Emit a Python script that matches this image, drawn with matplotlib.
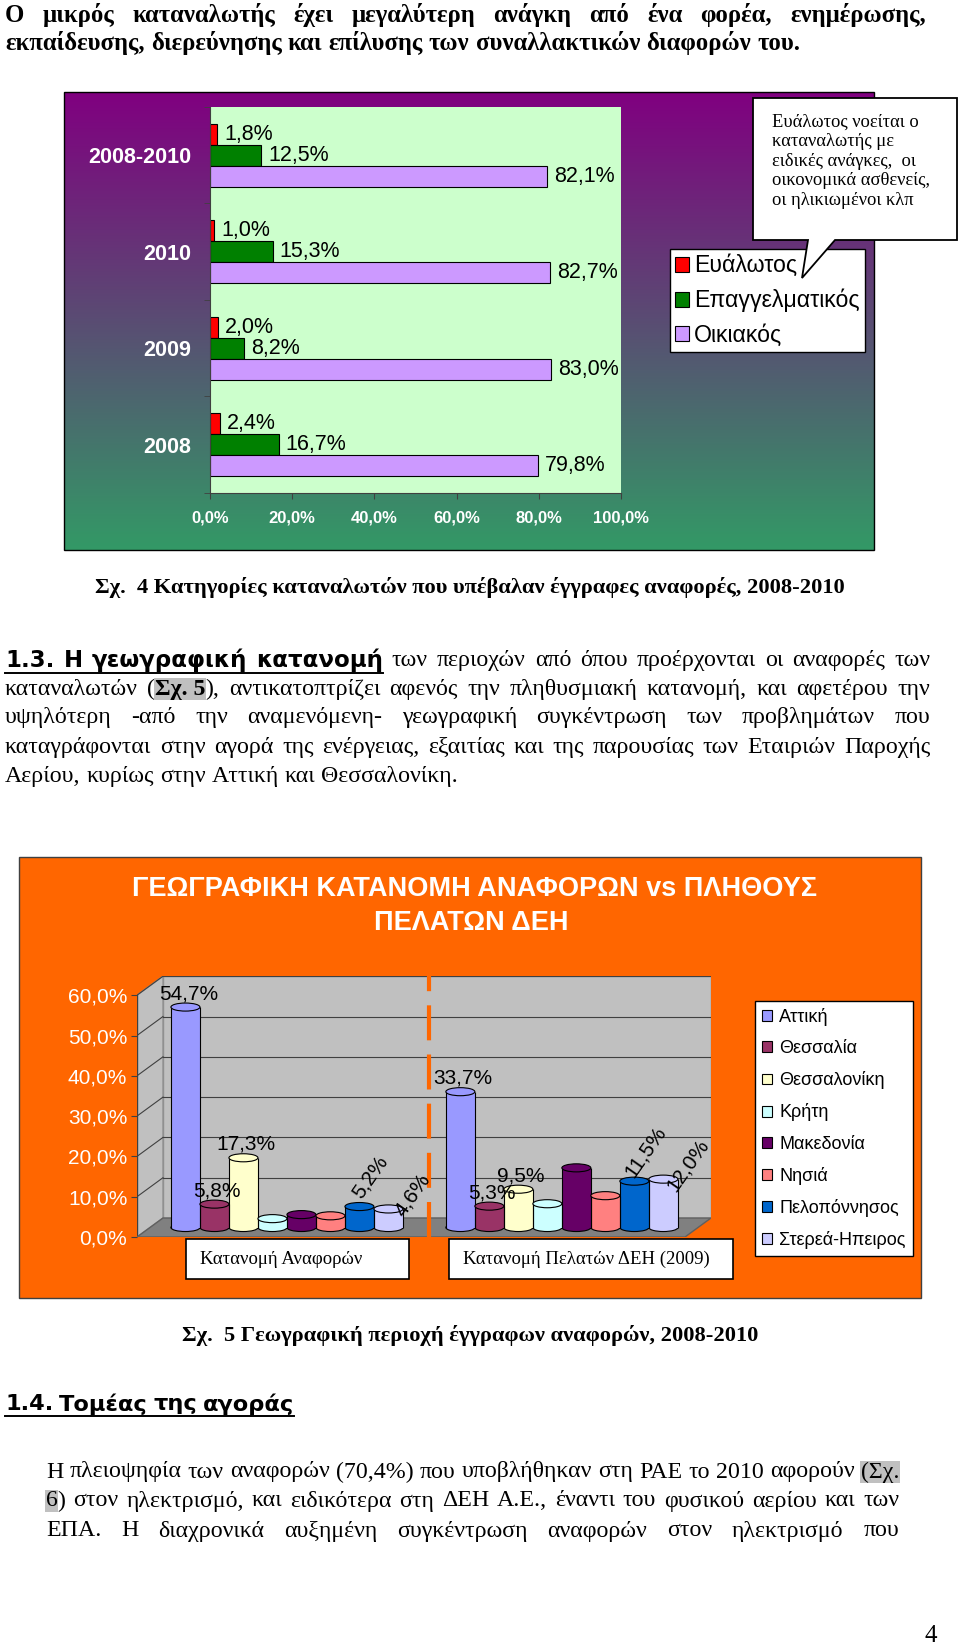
import numpy as np
import matplotlib
matplotlib.use('Agg')
import matplotlib.pyplot as plt
from matplotlib.patches import Rectangle, Polygon, Ellipse, Patch

# --- data: chart 4 (consumer categories) ---
CATS1 = ['2008-2010', '2010', '2009', '2008']
SERIES1 = ['Ευάλωτος', 'Επαγγελματικός', 'Οικιακός']
EVALOTOS = [1.8, 1.0, 2.0, 2.4]
EPAGGELMATIKOS = [12.5, 15.3, 8.2, 16.7]
OIKIAKOS = [82.1, 82.7, 83.0, 79.8]
COLORS1 = ['#FF0000', '#008000', '#CC99FF']
XTICKS1 = [0, 20, 40, 60, 80, 100]

# --- data: chart 5 (regions) ---
REGIONS = ['Αττική', 'Θεσσαλία', 'Θεσσαλονίκη', 'Κρήτη', 'Μακεδονία',
           'Νησιά', 'Πελοπόννησος', 'Στερεά-Ηπειρος']
REPORTS = [54.7, 5.8, 17.3, 2.2, 3.2, 2.9, 5.2, 4.6]
CUSTOMERS = [33.7, 5.3, 9.5, 5.9, 14.8, 7.9, 11.5, 12.0]
CATS2 = ['Κατανομή Αναφορών', 'Κατανομή Πελατών ΔΕΗ (2009)']
COLORS2 = ['#9999FF', '#993366', '#FFFFCC', '#CCFFFF', '#660066',
           '#FF8080', '#0066CC', '#CCCCFF']
SHOW_LABEL = [True, True, True, False, False, False, True, True]
YTICKS2 = [0, 10, 20, 30, 40, 50, 60]

SERIF = ['Liberation Serif', 'DejaVu Serif']
SANS = ['Liberation Sans', 'DejaVu Sans']
HEADF = ['DejaVu Sans']

W, H = 960, 1648
PX = 100 / 72.  # px per point


def pct(v):
    return ('%.1f%%' % v).replace('.', ',')


def fig_rect(x0, y0, x1, y1):
    return [x0 / W, 1 - y1 / H, (x1 - x0) / W, (y1 - y0) / H]


fig = plt.figure(figsize=(9.6, 16.48), dpi=100)
fig.patch.set_facecolor('white')
renderer = fig.canvas.get_renderer()

bg = fig.add_axes([0, 0, 1, 1], zorder=0)
bg.axis('off')

# ---------------- text helpers ----------------
BODY_FS = 17.2
STYLES = {
    'hdr': dict(family=SERIF, fontsize=17.8, fontweight='bold'),
    'body': dict(family=SERIF, fontsize=BODY_FS),
    'body_hl': dict(family=SERIF, fontsize=BODY_FS, hl=True),
    'bodyb_hl': dict(family=SERIF, fontsize=BODY_FS, fontweight='bold', hl=True),
    'head': dict(family=HEADF, fontsize=16.5, fontweight='bold', ul=True),
    'head2': dict(family=HEADF, fontsize=16.2, fontweight='bold', ul=True),
}


def words(s, st):
    return [[(w, st)] for w in s.split()]


def draw_line(ax, line, x0, y, x1=None):
    arts = []
    for word in line:
        runs = []
        for txt, st in word:
            kw = dict(STYLES[st])
            hl = kw.pop('hl', False)
            ul = kw.pop('ul', False)
            t = ax.text(0, y, txt, ha='left', va='center', color='black', **kw)
            if hl:
                t.set_bbox(dict(facecolor='#C0C0C0', edgecolor='none', pad=0.6))
            runs.append((t, t.get_window_extent(renderer).width, ul, kw['fontsize']))
        arts.append(runs)
    wsum = [sum(r[1] for r in runs) for runs in arts]
    if x1 is not None and len(arts) > 1:
        gap = (x1 - x0 - sum(wsum)) / (len(arts) - 1)
    else:
        gap = 0.25 * arts[0][0][3] * PX
    x = x0
    ul_x, ul_fs = [], 0
    for runs in arts:
        for t, w, ul, fs in runs:
            t.set_x(x)
            if ul:
                ul_x += [x, x + w]
                ul_fs = fs
            x += w
        x += gap
    if ul_x:
        ax.plot([min(ul_x), max(ul_x)], [y + 0.55 * ul_fs * PX] * 2,
                color='black', lw=1.4)


# ---------------- page text ----------------
draw_line(bg, words('Ο μικρός καταναλωτής έχει μεγαλύτερη ανάγκη από ένα φορέα, ενημέρωσης,', 'hdr'), 5, 15, 926)
draw_line(bg, words('εκπαίδευσης, διερεύνησης και επίλυσης των συναλλακτικών διαφορών του.', 'hdr'), 5, 43)

bg.text(470, 587, 'Σχ.  4 Κατηγορίες καταναλωτών που υπέβαλαν έγγραφες αναφορές, 2008-2010',
        ha='center', va='center', family=SERIF, fontsize=16.2, fontweight='bold')

draw_line(bg, words('1.3. Η γεωγραφική κατανομή', 'head')
          + words('των περιοχών από όπου προέρχονται οι αναφορές των', 'body'), 5, 660, 930)
draw_line(bg, [[('καταναλωτών', 'body')], [('(', 'body'), ('Σχ. 5', 'bodyb_hl'), ('),', 'body')]]
          + words('αντικατοπτρίζει αφενός την πληθυσμιακή κατανομή, και αφετέρου την', 'body'), 5, 689, 930)
draw_line(bg, words('υψηλότερη -από την αναμενόμενη- γεωγραφική συγκέντρωση των προβλημάτων που', 'body'), 5, 717, 930)
draw_line(bg, words('καταγράφονται στην αγορά της ενέργειας, εξαιτίας και της παρουσίας των Εταιριών Παροχής', 'body'), 5, 747, 930)
draw_line(bg, words('Αερίου, κυρίως στην Αττική και Θεσσαλονίκη.', 'body'), 5, 776)

bg.text(470, 1335, 'Σχ.  5 Γεωγραφική περιοχή έγγραφων αναφορών, 2008-2010',
        ha='center', va='center', family=SERIF, fontsize=16.2, fontweight='bold')

draw_line(bg, words('1.4. Τομέας της αγοράς', 'head2'), 5, 1404)
draw_line(bg, words('Η πλειοψηφία των αναφορών (70,4%) που υποβλήθηκαν στη ΡΑΕ το 2010 αφορούν', 'body')
          + [[('(Σχ.', 'body_hl')]], 46, 1472, 899)
draw_line(bg, [[('6', 'body_hl'), (')', 'body')]]
          + words('στον ηλεκτρισμό, και ειδικότερα στη ΔΕΗ Α.Ε., έναντι του φυσικού αερίου και των', 'body'),
          46, 1501, 899)
draw_line(bg, words('ΕΠΑ. Η διαχρονικά αυξημένη συγκέντρωση αναφορών στον ηλεκτρισμό που', 'body'), 46, 1531, 899)

bg.text(931, 1636, '4', ha='center', va='center', family=SERIF, fontsize=18)

# ---------------- chart 4 ----------------
grad = np.linspace(0, 1, 256)[:, None, None]
c_top = np.array([128, 0, 128]) / 255.
c_bot = np.array([51, 153, 102]) / 255.
bg.imshow(c_top * (1 - grad) + c_bot * grad, extent=(64, 874, 550, 92),
          aspect='auto', zorder=1)
bg.add_patch(Rectangle((64, 92), 810, 458, fill=False, ec='black', lw=1, zorder=2))

# orange frame of chart 5
bg.add_patch(Rectangle((19, 857), 902, 441, fc='#FF6600', ec='#404040', lw=1, zorder=1))
bg.text(475, 889, 'ΓΕΩΓΡΑΦΙΚΗ ΚΑΤΑΝΟΜΗ ΑΝΑΦΟΡΩΝ vs ΠΛΗΘΟΥΣ', ha='center', va='center',
        color='white', family=SANS, fontsize=19.5, fontweight='bold', zorder=3)
bg.text(471, 923, 'ΠΕΛΑΤΩΝ ΔΕΗ', ha='center', va='center',
        color='white', family=SANS, fontsize=19.5, fontweight='bold', zorder=3)

bg.set_xlim(0, W)
bg.set_ylim(H, 0)

ax1 = fig.add_axes(fig_rect(210, 107, 621, 493), zorder=2)
ax1.set_facecolor('#CCFFCC')
y = np.arange(len(CATS1))
bh = 0.218
for k, (vals, col, name) in enumerate(zip([EVALOTOS, EPAGGELMATIKOS, OIKIAKOS], COLORS1, SERIES1)):
    bars = ax1.barh(y + (k - 1) * bh, vals, bh, color=col, edgecolor='black',
                    linewidth=0.8, label=name)
    ax1.bar_label(bars, labels=[pct(v) for v in vals], padding=5,
                  fontsize=15.5, family=SANS, color='black')
ax1.set_xlim(0, 100)
ax1.set_ylim(len(CATS1) - 0.5, -0.5)
ax1.set_xticks(XTICKS1)
ax1.set_xticklabels([pct(v) for v in XTICKS1], color='white', fontweight='bold',
                    family=SANS, fontsize=12)
ax1.set_yticks(y)
ax1.set_yticklabels(CATS1, color='white', fontweight='bold', family=SANS, fontsize=15.5)
ax1.set_yticks(np.arange(len(CATS1) + 1) - 0.5, minor=True)
ax1.tick_params(axis='y', which='major', length=0, pad=13.5)
ax1.tick_params(axis='y', which='minor', length=4, direction='out', color='#404040')
ax1.tick_params(axis='x', length=4, direction='out', color='#404040', pad=8.5)
for s in ['top', 'right']:
    ax1.spines[s].set_visible(False)
for s in ['left', 'bottom']:
    ax1.spines[s].set_color('#404040')
leg1 = ax1.legend(loc='upper left', bbox_to_anchor=(670 / W, 1 - 249 / H),
                  bbox_transform=fig.transFigure, borderaxespad=0,
                  prop=dict(family=SANS, size=16.7), handlelength=0.6, handleheight=0.6,
                  handletextpad=0.22, labelspacing=0.5, borderpad=0.23,
                  fancybox=False, edgecolor='black', framealpha=1)
leg1.get_frame().set_linewidth(1.0)

# ---------------- chart 5 ----------------
UNIT_PX = 29.0
PCT_PX = 4.03
DEPTH_X = 26 / UNIT_PX
DEPTH_Y = 19 / PCT_PX
XMAX = (711 - 137) / UNIT_PX
YMAX = DEPTH_Y + 60
MID_Y = DEPTH_Y / 2
GROUP_X = [1.17, 10.65]
SEP_X = (429 - 137) / UNIT_PX
ELL_H = 2.0

ax2 = fig.add_axes(fig_rect(137, 1237 - YMAX * PCT_PX, 711, 1237), zorder=2)
ax2.set_facecolor('none')
ax2.set_xlim(0, XMAX)
ax2.set_ylim(0, YMAX)
for s in ax2.spines.values():
    s.set_visible(False)

ax2.add_patch(Rectangle((DEPTH_X, DEPTH_Y), XMAX - DEPTH_X, 60, fc='#C0C0C0',
                        ec='#909090', lw=1, zorder=1))
ax2.add_patch(Polygon([(0, 0), (DEPTH_X, DEPTH_Y), (DEPTH_X, YMAX), (0, 60)],
                      fc='#C0C0C0', ec='#909090', lw=1, zorder=1))
ax2.add_patch(Polygon([(0, 0), (DEPTH_X, DEPTH_Y), (XMAX, DEPTH_Y), (XMAX - DEPTH_X, 0)],
                      fc='#808080', ec='#606060', lw=1, zorder=1.5))
for v in YTICKS2[1:]:
    ax2.plot([DEPTH_X, XMAX], [DEPTH_Y + v] * 2, color='#404040', lw=0.8, zorder=1.2)
    ax2.plot([0, DEPTH_X], [v, DEPTH_Y + v], color='#404040', lw=0.8, zorder=1.2)
ax2.plot([0, 0], [0, 60], color='#404040', lw=1, zorder=1.3)

ax2.set_xticks([])
ax2.set_yticks(YTICKS2)
ax2.set_yticklabels([pct(v) for v in YTICKS2], color='white', family=SANS, fontsize=15)
ax2.tick_params(axis='y', length=4, direction='out', color='#404040', pad=3)

ROT_DX = [0, 0, 0, 0, 0, 0, 0.37, 0.83]
ROT_DY = [0, 0, 0, 0, 0, 0, 7.3, 3.5]
for g, vals in enumerate([REPORTS, CUSTOMERS]):
    xc = GROUP_X[g] + np.arange(len(vals)) + 0.5
    for i, (x, v, col) in enumerate(zip(xc, vals, COLORS2)):
        ax2.add_patch(Ellipse((x, MID_Y), 1, ELL_H, fc=col, ec='black', lw=0.8, zorder=3))
    ax2.bar(xc, vals, 1, bottom=MID_Y, color=COLORS2, edgecolor='none', zorder=4)
    ax2.vlines(np.concatenate([xc - 0.5, xc + 0.5]), MID_Y,
               MID_Y + np.concatenate([vals, vals]), color='black', lw=0.8, zorder=5)
    for i, (x, v, col) in enumerate(zip(xc, vals, COLORS2)):
        ax2.add_patch(Ellipse((x, MID_Y + v), 1, ELL_H, fc=col, ec='black', lw=0.8, zorder=6))
        if not SHOW_LABEL[i]:
            continue
        if ROT_DX[i] == 0:
            ax2.text(x + 0.1, MID_Y + v + 1, pct(v), ha='center', va='bottom',
                     family=SANS, fontsize=15, zorder=8)
        else:
            ax2.text(x + ROT_DX[i], MID_Y + v + ROT_DY[i], pct(v), ha='center', va='center',
                     rotation=55, family=SANS, fontsize=15, zorder=8)

ax2.plot([SEP_X, SEP_X], [0, YMAX], color='#FF6600', lw=3,
         linestyle=(0, (8.4, 3.4)), zorder=7, solid_capstyle='butt')

handles2 = [Patch(facecolor=c, edgecolor='black', linewidth=0.8, label=r)
            for c, r in zip(COLORS2, REGIONS)]
leg2 = ax2.legend(handles=handles2, loc='upper left', bbox_to_anchor=(755 / W, 1 - 1001 / H),
                  bbox_transform=fig.transFigure, borderaxespad=0,
                  prop=dict(family=SANS, size=13), handlelength=0.55, handleheight=0.55,
                  handletextpad=0.4, labelspacing=0.78, borderpad=0.4,
                  fancybox=False, edgecolor='black', framealpha=1)
leg2.get_frame().set_linewidth(1.0)

# ---------------- overlay: callout and category boxes ----------------
fg = fig.add_axes([0, 0, 1, 1], zorder=10)
fg.set_facecolor('none')
fg.axis('off')
fg.add_patch(Polygon([(753, 98), (957, 98), (957, 240), (835, 240), (802, 278),
                      (808, 240), (753, 240)], closed=True, fc='white', ec='black', lw=1.3))
NOTE = ['Ευάλωτος νοείται ο', 'καταναλωτής με', 'ειδικές ανάγκες,  οι',
        'οικονομικά ασθενείς,', 'οι ηλικιωμένοι κλπ']
for k, line in enumerate(NOTE):
    fg.text(772, 122 + k * 19.6, line, ha='left', va='center', family=SERIF, fontsize=13.3)

BOX2 = [(186, 409), (449, 733)]
for (bx0, bx1), lab in zip(BOX2, CATS2):
    fg.add_patch(Rectangle((bx0, 1239), bx1 - bx0, 40, fc='white', ec='black', lw=1.2))
    fg.text(bx0 + 14, 1259, lab, ha='left', va='center', family=SERIF, fontsize=13.5)
fg.set_xlim(0, W)
fg.set_ylim(H, 0)

fig.savefig('out.png', dpi=100)
